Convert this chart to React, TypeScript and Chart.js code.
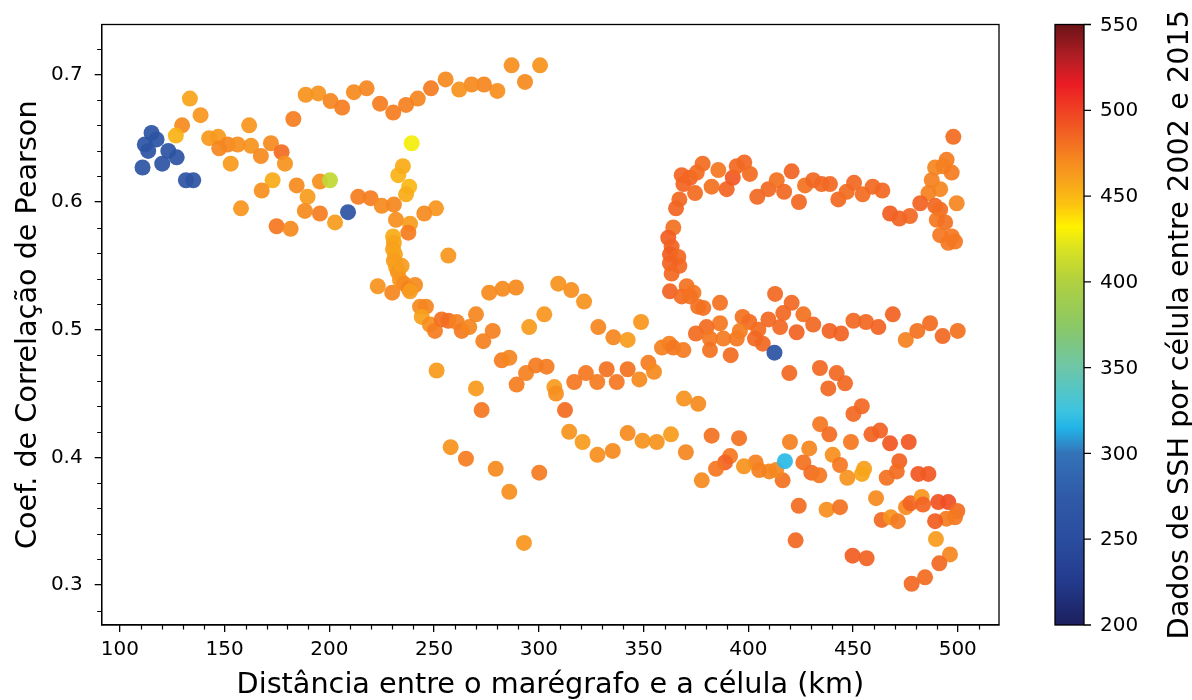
import { useEffect, useRef } from 'react';
import { Chart, registerables } from 'chart.js';

Chart.register(...registerables);

// ---- Axis ranges and ticks ----
const X_MIN = 91.3;
const X_MAX = 519.7;
const Y_MIN = 0.2687;
const Y_MAX = 0.739;
const X_MAJOR = [100, 150, 200, 250, 300, 350, 400, 450, 500];
const X_MINOR = [110, 120, 130, 140, 160, 170, 180, 190, 210, 220, 230, 240, 260, 270, 280, 290, 310, 320, 330, 340, 360, 370, 380, 390, 410, 420, 430, 440, 460, 470, 480, 490, 510];
const Y_MAJOR = [0.3, 0.4, 0.5, 0.6, 0.7];
const Y_MINOR = [0.28, 0.32, 0.34, 0.36, 0.38, 0.42, 0.44, 0.46, 0.48, 0.52, 0.54, 0.56, 0.58, 0.62, 0.64, 0.66, 0.68, 0.72];
const CBAR_MIN = 200;
const CBAR_MAX = 550;
const CBAR_TICKS = [200, 250, 300, 350, 400, 450, 500, 550];

const X_TITLE = 'Distância entre o marégrafo e a célula (km)';
const Y_TITLE = 'Coef. de Correlação de Pearson';
const CBAR_TITLE = 'Dados de SSH por célula entre 2002 e 2015';

// ---- Data: [distance km, Pearson r, SSH samples per cell] ----
const blueCluster: [number, number, number][] = [
  [110.8, 0.627, 265], [111.9, 0.645, 265], [115.1, 0.654, 265], [117.5, 0.649, 265], [113.5, 0.640, 265],
  [123.1, 0.640, 265], [127.1, 0.635, 265], [120.2, 0.630, 265], [131.5, 0.617, 265], [135.0, 0.617, 265],
];

const sparseCells: [number, number, number][] = [
  [208.9, 0.592, 265], [412.5, 0.482, 262], [417.5, 0.397, 318], [200.3, 0.617, 408], [239.3, 0.646, 428],
];

const westArc: [number, number, number][] = [
  [133.4, 0.681, 458], [138.5, 0.668, 465], [129.7, 0.660, 470], [126.7, 0.652, 452], [142.6, 0.650, 463],
  [146.9, 0.651, 463], [147.4, 0.642, 472], [151.4, 0.645, 472], [156.2, 0.645, 468], [161.7, 0.660, 465],
  [162.6, 0.644, 466], [167.3, 0.636, 470], [172.1, 0.646, 470], [177.2, 0.639, 482], [178.8, 0.630, 466],
  [152.9, 0.630, 463], [172.9, 0.617, 455], [167.7, 0.609, 468], [157.8, 0.595, 465], [184.4, 0.613, 470],
  [189.6, 0.604, 462], [188.3, 0.593, 470], [195.5, 0.591, 475], [202.7, 0.584, 462], [195.5, 0.616, 468],
  [174.8, 0.581, 478], [181.5, 0.579, 470], [182.8, 0.665, 475], [188.7, 0.684, 466], [194.7, 0.685, 466],
  [200.6, 0.679, 472], [206.1, 0.674, 475], [211.7, 0.686, 470], [217.8, 0.689, 472], [224.2, 0.677, 475],
  [230.5, 0.670, 475], [213.8, 0.604, 475], [219.7, 0.603, 475], [225.0, 0.597, 470], [230.8, 0.598, 472],
  [231.8, 0.586, 468], [223.1, 0.534, 466], [230.0, 0.529, 472], [232.9, 0.621, 452],
];

const westColumn: [number, number, number][] = [
  [235.1, 0.628, 455], [238.1, 0.612, 450], [236.6, 0.606, 455], [238.5, 0.583, 462], [237.7, 0.576, 475],
  [230.4, 0.573, 455], [230.8, 0.568, 458], [230.4, 0.563, 460], [231.3, 0.559, 458], [230.8, 0.554, 462],
  [231.8, 0.549, 460], [232.7, 0.545, 465], [234.5, 0.550, 462], [233.7, 0.539, 465], [235.6, 0.536, 470],
  [238.0, 0.532, 475], [240.9, 0.535, 470], [238.5, 0.530, 462],
];

const northRidge: [number, number, number][] = [
  [287.0, 0.707, 468], [300.6, 0.707, 466], [293.4, 0.694, 470], [280.2, 0.687, 468], [273.8, 0.692, 472],
  [267.9, 0.692, 470], [262.0, 0.688, 466], [255.5, 0.696, 470], [248.5, 0.689, 476], [242.2, 0.681, 472],
  [236.6, 0.676, 474],
];

const midBand: [number, number, number][] = [
  [250.9, 0.595, 465], [245.3, 0.591, 470], [256.8, 0.558, 465], [243.3, 0.518, 470], [246.1, 0.518, 472],
  [244.1, 0.510, 460], [248.0, 0.504, 468], [250.4, 0.499, 475], [253.6, 0.508, 480], [256.8, 0.507, 482],
  [260.8, 0.506, 474], [263.2, 0.499, 476], [266.8, 0.502, 472], [270.0, 0.512, 472], [278.0, 0.499, 474],
  [273.5, 0.491, 474], [276.3, 0.529, 470], [282.7, 0.532, 470], [289.1, 0.533, 470], [309.3, 0.536, 466],
  [315.5, 0.531, 468], [321.6, 0.522, 466], [302.6, 0.512, 465], [295.4, 0.502, 462], [328.4, 0.502, 472],
  [335.6, 0.494, 472], [342.4, 0.492, 462], [348.8, 0.506, 465],
];

const lowerMid: [number, number, number][] = [
  [251.2, 0.468, 463], [270.0, 0.454, 463], [272.7, 0.437, 478], [282.3, 0.476, 475], [285.9, 0.478, 472],
  [289.4, 0.457, 475], [293.9, 0.466, 474], [298.6, 0.472, 476], [303.7, 0.471, 476], [307.4, 0.455, 462],
  [308.2, 0.450, 468], [312.5, 0.437, 482], [316.9, 0.459, 478], [322.5, 0.466, 478], [327.9, 0.459, 476],
  [332.4, 0.469, 480], [337.2, 0.459, 478], [342.4, 0.469, 480], [348.0, 0.461, 470], [352.3, 0.474, 475],
  [355.0, 0.467, 470], [314.5, 0.420, 466], [320.9, 0.412, 462], [328.0, 0.402, 468], [335.3, 0.405, 470],
  [342.4, 0.419, 470], [349.5, 0.413, 466], [356.3, 0.412, 466], [363.1, 0.418, 462], [370.2, 0.404, 472],
  [257.9, 0.408, 466], [265.2, 0.399, 475], [279.4, 0.391, 470], [300.2, 0.388, 476], [285.9, 0.373, 468],
  [292.9, 0.333, 465],
];

const eastHook: [number, number, number][] = [
  [368.2, 0.621, 485], [372.2, 0.619, 485], [375.4, 0.623, 482], [378.2, 0.630, 482], [369.0, 0.614, 485],
  [374.6, 0.607, 482], [367.1, 0.602, 484], [365.5, 0.595, 485], [364.2, 0.580, 480], [361.8, 0.572, 488],
  [363.4, 0.565, 486], [362.6, 0.559, 488], [366.6, 0.557, 484], [367.1, 0.550, 484], [362.6, 0.552, 486],
  [363.4, 0.544, 484], [362.6, 0.530, 486], [370.6, 0.534, 480], [373.8, 0.529, 478], [368.2, 0.526, 482],
  [372.2, 0.526, 480], [376.1, 0.518, 480], [378.5, 0.517, 480], [386.5, 0.521, 480],
  [382.5, 0.612, 480], [385.7, 0.625, 478], [389.7, 0.610, 485], [392.6, 0.619, 490], [394.5, 0.628, 484],
  [398.1, 0.631, 484], [400.8, 0.622, 482], [404.3, 0.604, 484], [409.6, 0.610, 484], [413.6, 0.617, 480],
  [417.1, 0.608, 484], [420.7, 0.624, 486], [424.2, 0.600, 484], [427.1, 0.613, 480], [431.0, 0.617, 484],
  [435.0, 0.614, 484], [439.0, 0.614, 484], [443.0, 0.602, 484], [447.0, 0.608, 482], [450.5, 0.615, 484],
  [454.6, 0.606, 482], [459.4, 0.612, 484], [464.0, 0.609, 484], [467.7, 0.591, 488], [472.1, 0.587, 486],
  [477.2, 0.589, 484],
];

const eastCluster: [number, number, number][] = [
  [497.9, 0.651, 482], [494.7, 0.633, 476], [489.2, 0.627, 472], [493.1, 0.628, 474], [497.1, 0.623, 476],
  [487.6, 0.617, 474], [491.6, 0.610, 472], [486.0, 0.607, 474], [499.5, 0.599, 472], [482.1, 0.599, 486],
  [489.2, 0.597, 484], [491.6, 0.594, 482], [490.0, 0.586, 478], [494.0, 0.584, 480], [491.6, 0.574, 478],
  [497.2, 0.573, 478], [495.5, 0.568, 478], [498.7, 0.569, 478],
];

const eastMid: [number, number, number][] = [
  [412.8, 0.528, 484], [420.7, 0.521, 484], [416.7, 0.513, 484], [426.3, 0.512, 480], [431.0, 0.504, 484],
  [409.6, 0.508, 484], [415.2, 0.502, 484], [423.1, 0.498, 486], [397.3, 0.510, 480], [400.5, 0.506, 482],
  [404.8, 0.500, 482], [403.2, 0.493, 484], [406.9, 0.489, 484], [386.5, 0.505, 478], [380.1, 0.502, 482],
  [375.0, 0.497, 482], [381.7, 0.493, 478], [388.1, 0.493, 476], [394.5, 0.493, 478], [396.0, 0.499, 476],
  [381.7, 0.484, 480], [391.6, 0.480, 482], [358.8, 0.486, 474], [362.3, 0.489, 474], [364.2, 0.486, 478],
  [369.0, 0.484, 476], [438.8, 0.499, 486], [444.3, 0.497, 486], [450.2, 0.507, 484], [456.2, 0.506, 484],
  [462.1, 0.502, 486], [469.0, 0.512, 486], [475.2, 0.492, 474], [480.7, 0.499, 480], [486.8, 0.505, 482],
  [492.8, 0.495, 484], [500.0, 0.499, 480],
];

const southEast: [number, number, number][] = [
  [419.6, 0.466, 484], [434.2, 0.470, 484], [442.2, 0.466, 484], [438.2, 0.454, 484], [446.2, 0.458, 484],
  [369.3, 0.446, 466], [376.1, 0.442, 470], [454.2, 0.440, 484], [450.2, 0.434, 484], [434.3, 0.426, 478],
  [438.7, 0.418, 482], [449.0, 0.412, 478], [458.8, 0.418, 486], [462.9, 0.421, 486], [467.7, 0.411, 490],
  [476.6, 0.412, 490], [472.1, 0.397, 486], [419.9, 0.412, 474], [429.1, 0.407, 472], [440.3, 0.402, 468],
  [443.8, 0.394, 478], [455.3, 0.391, 460], [454.3, 0.387, 458], [447.3, 0.384, 466], [466.1, 0.384, 480],
  [470.9, 0.389, 482], [481.2, 0.387, 490], [486.0, 0.387, 490], [426.3, 0.396, 480], [430.1, 0.388, 482],
  [433.9, 0.386, 478], [416.4, 0.382, 480], [413.3, 0.390, 472], [410.0, 0.389, 472], [405.2, 0.390, 474],
  [403.5, 0.396, 474], [397.9, 0.393, 466], [395.6, 0.415, 480], [382.5, 0.417, 480], [391.3, 0.401, 478],
  [388.9, 0.396, 486], [384.6, 0.391, 478], [377.8, 0.382, 470], [424.1, 0.362, 482], [437.4, 0.359, 468],
  [443.8, 0.361, 480], [461.0, 0.368, 470], [463.7, 0.351, 484], [468.1, 0.353, 466], [471.4, 0.350, 476],
  [475.3, 0.361, 470], [477.4, 0.364, 485], [482.8, 0.369, 465], [483.4, 0.363, 485], [490.7, 0.365, 492],
  [495.5, 0.365, 494], [499.8, 0.358, 482], [498.7, 0.353, 478], [494.6, 0.352, 476], [489.2, 0.350, 488],
  [489.6, 0.336, 462], [496.3, 0.324, 472], [491.2, 0.317, 484], [484.4, 0.306, 482], [478.0, 0.301, 484],
  [422.6, 0.335, 484], [449.8, 0.323, 488], [456.5, 0.321, 486],
];

// ---- Colour map (value -> colour) ----
const CMAP_STOPS: [number, string][] = [
  [200, '#1c1f5e'], [225, '#233a8c'], [250, '#2b4d9f'], [275, '#2f5aa8'], [300, '#3473b8'],
  [315, '#22b5e8'], [325, '#3ec4e0'], [350, '#6dc6a8'], [375, '#8cc864'], [400, '#b0d040'],
  [420, '#dbe320'], [432, '#fff200'], [445, '#fcc410'], [460, '#f7a01c'], [470, '#f68b1f'],
  [485, '#f26522'], [500, '#ef4123'], [515, '#ec1c24'], [530, '#b51e24'], [550, '#6b1418'],
];

function hexRgb(h: string): [number, number, number] {
  const n = parseInt(h.slice(1), 16);
  return [(n >> 16) & 255, (n >> 8) & 255, n & 255];
}

function cmap(v: number, alpha = 1): string {
  const t = Math.max(CBAR_MIN, Math.min(CBAR_MAX, v));
  let i = 0;
  while (i < CMAP_STOPS.length - 2 && t > CMAP_STOPS[i + 1][0]) i++;
  const [v0, c0] = CMAP_STOPS[i];
  const [v1, c1] = CMAP_STOPS[i + 1];
  const f = (t - v0) / (v1 - v0);
  const a = hexRgb(c0);
  const b = hexRgb(c1);
  const r = Math.round(a[0] + (b[0] - a[0]) * f);
  const g = Math.round(a[1] + (b[1] - a[1]) * f);
  const bl = Math.round(a[2] + (b[2] - a[2]) * f);
  return `rgba(${r},${g},${bl},${alpha})`;
}

const FONT = "'DejaVu Sans', sans-serif";
const TITLE_SIZE = 28.7;

// Minor ticks, axes frame and the colour bar
const decorations = {
  id: 'decorations',
  afterDraw(chart: any) {
    const { ctx, chartArea: a } = chart;
    const xs = chart.scales.x;
    const ys = chart.scales.y;
    ctx.save();
    ctx.strokeStyle = '#000';
    ctx.lineWidth = 1.2;
    ctx.beginPath();
    for (const v of X_MINOR) {
      const px = Math.round(xs.getPixelForValue(v)) + 0.5;
      ctx.moveTo(px, a.bottom);
      ctx.lineTo(px, a.bottom + 4.5);
    }
    for (const v of Y_MINOR) {
      const py = Math.round(ys.getPixelForValue(v)) + 0.5;
      ctx.moveTo(a.left, py);
      ctx.lineTo(a.left - 4.5, py);
    }
    ctx.stroke();
    ctx.lineWidth = 1.3;
    ctx.strokeRect(a.left, a.top, a.right - a.left, a.bottom - a.top);

    // colour bar
    const bx0 = 1055;
    const bx1 = 1084;
    const top = a.top;
    const bot = a.bottom;
    const grad = ctx.createLinearGradient(0, bot, 0, top);
    for (const [v, c] of CMAP_STOPS) grad.addColorStop((v - CBAR_MIN) / (CBAR_MAX - CBAR_MIN), c);
    ctx.fillStyle = grad;
    ctx.fillRect(bx0, top, bx1 - bx0, bot - top);
    ctx.strokeRect(bx0, top, bx1 - bx0, bot - top);
    ctx.fillStyle = '#000';
    ctx.font = `20px ${FONT}`;
    ctx.textAlign = 'left';
    ctx.textBaseline = 'middle';
    ctx.beginPath();
    for (const v of CBAR_TICKS) {
      const py = bot - ((v - CBAR_MIN) / (CBAR_MAX - CBAR_MIN)) * (bot - top);
      ctx.moveTo(bx1, py);
      ctx.lineTo(bx1 + 7, py);
      ctx.fillText(String(v), bx1 + 16, py + 1);
    }
    ctx.stroke();
    ctx.translate(1181, (top + bot) / 2);
    ctx.rotate(-Math.PI / 2);
    ctx.textAlign = 'center';
    ctx.font = `${TITLE_SIZE}px ${FONT}`;
    ctx.fillText(CBAR_TITLE, 0, 0);
    ctx.restore();
  },
};

export default function App() {
  const ref = useRef<HTMLCanvasElement>(null);

  useEffect(() => {
    const pts = [
      ...blueCluster, ...westArc, ...westColumn, ...northRidge, ...midBand, ...lowerMid,
      ...eastHook, ...eastCluster, ...eastMid, ...southEast, ...sparseCells,
    ];
    const chart = new Chart(ref.current as HTMLCanvasElement, {
      type: 'scatter',
      data: {
        datasets: [
          {
            data: pts.map((p) => ({ x: p[0], y: p[1] })),
            backgroundColor: pts.map((p) => cmap(p[2], 0.93)),
            borderWidth: 0,
            pointRadius: 8,
            pointHoverRadius: 8,
          },
        ],
      },
      options: {
        animation: false,
        responsive: false,
        devicePixelRatio: 1,
        layout: { padding: { top: 24.5, right: 193, bottom: 0, left: 0 } },
        plugins: { legend: { display: false }, tooltip: { enabled: false } },
        scales: {
          x: {
            type: 'linear',
            min: X_MIN,
            max: X_MAX,
            afterBuildTicks: (s: any) => {
              s.ticks = X_MAJOR.map((v) => ({ value: v }));
            },
            afterFit: (s: any) => {
              s.height = 75;
            },
            ticks: {
              autoSkip: false,
              maxRotation: 0,
              padding: 6,
              color: '#000',
              font: { family: FONT, size: 20 },
              callback: (v: any) => String(v),
            },
            grid: { drawOnChartArea: false, drawTicks: true, tickLength: 7, color: '#000', tickColor: '#000', lineWidth: 1.3 },
            border: { display: true, color: '#000', width: 1.3 },
            title: {
              display: true,
              text: X_TITLE,
              color: '#000',
              font: { family: FONT, size: TITLE_SIZE },
              padding: { top: 0, bottom: -3 },
            },
          },
          y: {
            type: 'linear',
            min: Y_MIN,
            max: Y_MAX,
            afterBuildTicks: (s: any) => {
              s.ticks = Y_MAJOR.map((v) => ({ value: v }));
            },
            afterFit: (s: any) => {
              s.width = 101.7;
            },
            ticks: {
              autoSkip: false,
              padding: 12,
              color: '#000',
              font: { family: FONT, size: 20 },
              callback: (v: any) => Number(v).toFixed(1),
            },
            grid: { drawOnChartArea: false, drawTicks: true, tickLength: 7, color: '#000', tickColor: '#000', lineWidth: 1.3 },
            border: { display: true, color: '#000', width: 1.3 },
            title: {
              display: true,
              text: Y_TITLE,
              color: '#000',
              font: { family: FONT, size: TITLE_SIZE },
              padding: { top: 11, bottom: 0 },
            },
          },
        },
      },
      plugins: [decorations],
    });
    return () => chart.destroy();
  }, []);

  return (
    <div style={{ position: 'fixed', left: 0, top: 0, width: 1192, height: 700, background: '#fff' }}>
      <canvas ref={ref} width={1192} height={700} style={{ display: 'block' }} />
    </div>
  );
}
